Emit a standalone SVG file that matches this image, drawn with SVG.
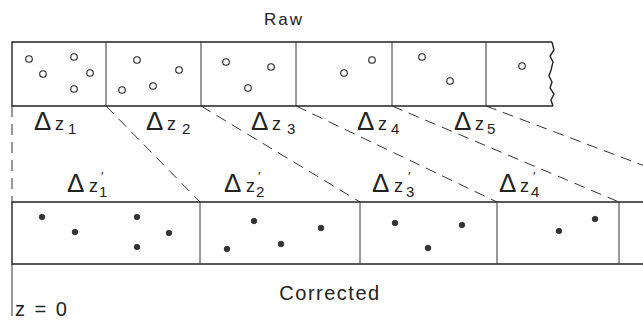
<svg xmlns="http://www.w3.org/2000/svg" width="643" height="321" viewBox="0 0 643 321">
<style>
.strip{fill:none;stroke:#222;stroke-width:1.4}
.div{stroke:#333;stroke-width:1}
.dash{stroke:#333;stroke-width:1;stroke-dasharray:11 7;fill:none}
.open{fill:#fff;stroke:#222;stroke-width:1.1}
.fill{fill:#333;stroke:#111;stroke-width:0.6}
text{font-family:"Liberation Sans","DejaVu Sans",sans-serif;fill:#222}
.d{font-size:26px}
.z{font-size:18px}
.s{font-size:15px}
.p{font-size:13px}
</style>
<rect width="643" height="321" fill="#fff"/>
<text x="284" y="25" text-anchor="middle" style="font-size:17px;letter-spacing:2px">Raw</text>
<g id="raw">
<path class="strip" d="M552,42 L12,42 L12,106 L553,106"/>
<path class="strip" d="M552,42 L554,50 L550,56 L553,62 L551,70 L549,76 L552,82 L550,88 L554,94 L551,100 L553,106"/>
<line class="div" x1="106" y1="42" x2="106" y2="106"/>
<line class="div" x1="201" y1="42" x2="201" y2="106"/>
<line class="div" x1="296" y1="42" x2="296" y2="106"/>
<line class="div" x1="392" y1="42" x2="392" y2="106"/>
<line class="div" x1="486" y1="42" x2="486" y2="106"/>
<g>
<circle class="open" cx="29" cy="59" r="3.3"/><circle class="open" cx="74" cy="57" r="3.3"/><circle class="open" cx="43" cy="74" r="3.3"/><circle class="open" cx="90" cy="73" r="3.3"/><circle class="open" cx="74" cy="89" r="3.3"/>
<circle class="open" cx="137" cy="60" r="3.3"/><circle class="open" cx="179" cy="70" r="3.3"/><circle class="open" cx="122" cy="90" r="3.3"/><circle class="open" cx="153" cy="86" r="3.3"/>
<circle class="open" cx="226" cy="62" r="3.3"/><circle class="open" cx="271" cy="67" r="3.3"/><circle class="open" cx="248" cy="88" r="3.3"/>
<circle class="open" cx="344" cy="73" r="3.3"/><circle class="open" cx="372" cy="60" r="3.3"/>
<circle class="open" cx="422" cy="57" r="3.3"/><circle class="open" cx="450" cy="81" r="3.3"/>
<circle class="open" cx="522" cy="66" r="3.3"/>
</g>
</g>
<g id="raw-labels">
<text class="d" x="34" y="130">Δ</text><text class="z" x="55" y="130">z</text><text class="s" x="68" y="134">1</text>
<text class="d" x="146" y="130">Δ</text><text class="z" x="167" y="130">z</text><text class="s" x="182" y="134">2</text>
<text class="d" x="251" y="130">Δ</text><text class="z" x="272" y="130">z</text><text class="s" x="287" y="134">3</text>
<text class="d" x="357" y="130">Δ</text><text class="z" x="378" y="130">z</text><text class="s" x="391" y="134">4</text>
<text class="d" x="454" y="130">Δ</text><text class="z" x="475" y="130">z</text><text class="s" x="487" y="134">5</text>
</g>
<g id="connectors">
<line class="dash" x1="12" y1="106" x2="12" y2="202"/>
<line class="div" x1="12" y1="264" x2="12" y2="316"/>
<line class="dash" x1="106" y1="106" x2="200" y2="202"/>
<line class="dash" x1="201" y1="106" x2="360" y2="202"/>
<line class="dash" x1="296" y1="106" x2="497" y2="202"/>
<line class="dash" x1="392" y1="106" x2="619" y2="202"/>
<line class="dash" x1="486" y1="106" x2="740" y2="202"/>
</g>
<g id="corrected">
<path class="strip" d="M643,202 L12,202 L12,264 L643,264"/>
<line class="div" x1="200" y1="202" x2="200" y2="264"/>
<line class="div" x1="360" y1="202" x2="360" y2="264"/>
<line class="div" x1="497" y1="202" x2="497" y2="264"/>
<line class="div" x1="619" y1="202" x2="619" y2="264"/>
<g>
<circle class="fill" cx="42" cy="217" r="2.8"/><circle class="fill" cx="75" cy="232" r="2.8"/><circle class="fill" cx="137" cy="217" r="2.8"/><circle class="fill" cx="137" cy="247" r="2.8"/><circle class="fill" cx="169" cy="233" r="2.8"/>
<circle class="fill" cx="227" cy="249" r="2.8"/><circle class="fill" cx="254" cy="221" r="2.8"/><circle class="fill" cx="281" cy="244" r="2.8"/><circle class="fill" cx="321" cy="228" r="2.8"/>
<circle class="fill" cx="395" cy="223" r="2.8"/><circle class="fill" cx="462" cy="225" r="2.8"/><circle class="fill" cx="428" cy="248" r="2.8"/>
<circle class="fill" cx="559" cy="231" r="2.8"/><circle class="fill" cx="595" cy="219" r="2.8"/>
</g>
</g>
<g id="corrected-labels">
<text class="d" x="67" y="192">Δ</text><text class="z" x="89" y="192">z</text><text class="p" x="101" y="181">′</text><text class="s" x="99" y="197">1</text>
<text class="d" x="224" y="192">Δ</text><text class="z" x="246" y="192">z</text><text class="p" x="258" y="181">′</text><text class="s" x="256" y="197">2</text>
<text class="d" x="372" y="192">Δ</text><text class="z" x="394" y="192">z</text><text class="p" x="408" y="181">′</text><text class="s" x="406" y="197">3</text>
<text class="d" x="499" y="192">Δ</text><text class="z" x="520" y="192">z</text><text class="p" x="533" y="181">′</text><text class="s" x="531" y="197">4</text>
</g>
<text x="330" y="300" text-anchor="middle" style="font-size:20px;letter-spacing:1.5px">Corrected</text>
<text x="15" y="316" style="font-size:20px;letter-spacing:2px">z = 0</text>
</svg>
